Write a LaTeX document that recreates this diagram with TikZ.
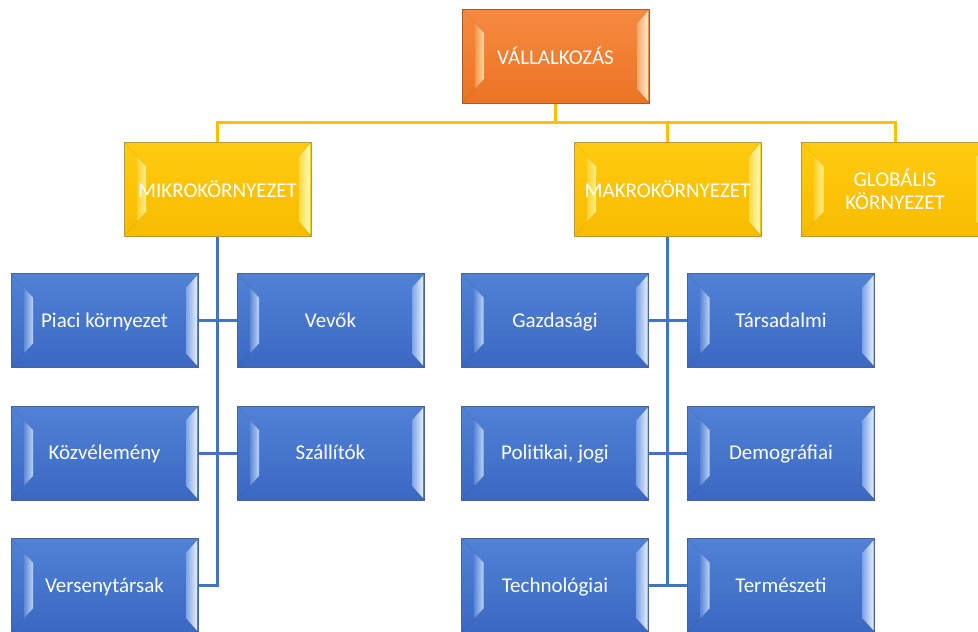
\documentclass[tikz,border=0pt]{standalone}
\usepackage{fontspec}
\setmainfont{Carlito}
\usetikzlibrary{calc,backgrounds}
\definecolor{bface1}{HTML}{5082D6}
\definecolor{bface2}{HTML}{3B68C2}
\definecolor{bl1}{HTML}{5E8AD8}
\definecolor{bl2}{HTML}{BCD3F6}
\definecolor{br1}{HTML}{7FA4E6}
\definecolor{br2}{HTML}{E4EFFD}
\definecolor{bbord}{HTML}{4A6394}
\definecolor{yface1}{HTML}{FFCB10}
\definecolor{yface2}{HTML}{F7BC00}
\definecolor{yl1}{HTML}{FFD030}
\definecolor{yl2}{HTML}{FFF08A}
\definecolor{yr1}{HTML}{FFDA40}
\definecolor{yr2}{HTML}{FFF9C8}
\definecolor{ybord}{HTML}{B99A3A}
\definecolor{oface1}{HTML}{F58A40}
\definecolor{oface2}{HTML}{EC7424}
\definecolor{ol1}{HTML}{F5954A}
\definecolor{ol2}{HTML}{FDD9A6}
\definecolor{or1}{HTML}{F8A868}
\definecolor{or2}{HTML}{FEEAD0}
\definecolor{obord}{HTML}{A9592C}
\definecolor{yline}{HTML}{FFC000}
\definecolor{bline}{HTML}{4472C4}
\tikzset{
  bevbox/.style n args={7}{
    draw=#1, line width=0.7pt, top color=#2, bottom color=#3,
    minimum width=187pt, minimum height=94pt, inner sep=2pt,
    text=white, font=\fontsize{21}{23}\selectfont, align=center,
    path picture={
      \coordinate (pnw) at (path picture bounding box.north west);
      \coordinate (pne) at (path picture bounding box.north east);
      \coordinate (psw) at (path picture bounding box.south west);
      \coordinate (pse) at (path picture bounding box.south east);
      \shade[left color=#4, right color=#5]
        ($(pnw)+(13pt,-14pt)$) -- ($(pnw)+(22pt,-24pt)$) -- ($(psw)+(22pt,24pt)$) -- ($(psw)+(13pt,14pt)$) -- cycle;
      \shade[left color=#6, right color=#7]
        ($(pne)+(-12pt,-14pt)$) -- ($(pne)+(-1pt,-2pt)$) -- ($(pse)+(-1pt,2pt)$) -- ($(pse)+(-12pt,14pt)$) -- cycle;
      \draw[black, opacity=0.08, line width=0.6pt] (pnw) -- ($(pnw)+(22pt,-24pt)$) (psw) -- ($(psw)+(22pt,24pt)$)
        (pne) -- ($(pne)+(-12pt,-14pt)$) (pse) -- ($(pse)+(-12pt,14pt)$);
    }},
  bluebox/.style={bevbox={bbord}{bface1}{bface2}{bl1}{bl2}{br1}{br2}, text height=17pt, text depth=4pt},
  yelbox/.style={bevbox={ybord}{yface1}{yface2}{yl1}{yl2}{yr1}{yr2}},
  orbox/.style={bevbox={obord}{oface1}{oface2}{ol1}{ol2}{or1}{or2}},
  yconn/.style={draw=yline, line width=3pt},
  bconn/.style={draw=bline, line width=3pt},
}
\begin{document}
\begin{tikzpicture}[x=1pt, y=-1pt]
\useasboundingbox (0,0) rectangle (978,632);
\clip (0,0) rectangle (978,632);
% boxes
\node[orbox] (top) at (555.5,56) {VÁLLALKOZÁS};
\node[yelbox] (mikro) at (217.5,189) {MIKROKÖRNYEZET};
\node[yelbox] (makro) at (667.5,189) {MAKROKÖRNYEZET};
\node[yelbox] (glob) at (895,189) {GLOBÁLIS\\KÖRNYEZET};
\node[bluebox] (piaci) at (104.5,320.5) {Piaci környezet};
\node[bluebox] (vevok) at (330.5,320.5) {Vevők};
\node[bluebox] (kozv) at (104.5,453) {Közvélemény};
\node[bluebox] (szall) at (330.5,453) {Szállítók};
\node[bluebox] (verseny) at (104.5,585.5) {Versenytársak};
\node[bluebox] (gazd) at (555,320.5) {Gazdasági};
\node[bluebox] (tars) at (781,320.5) {Társadalmi};
\node[bluebox] (pol) at (555,453) {Politikai, jogi};
\node[bluebox] (demo) at (781,453) {Demográfiai};
\node[bluebox] (tech) at (555,585.5) {Technológiai};
\node[bluebox] (term) at (781,585.5) {Természeti};
% connectors behind boxes
\coordinate (ybus) at (556,122);
\begin{scope}[on background layer]
\fill[white] (0,0) rectangle (978,632);
\draw[yconn] (top.south) -- (top.south |- ybus) -| (mikro.north);
\draw[yconn] (top.south |- ybus) -| (makro.north);
\draw[yconn] (top.south |- ybus) -| (glob.north);
\draw[bconn] (mikro.south) |- (verseny.east);
\draw[bconn] (piaci.east) -- (vevok.west);
\draw[bconn] (kozv.east) -- (szall.west);
\draw[bconn] (makro.south) -- (makro.south |- tech.east);
\draw[bconn] (gazd.east) -- (tars.west);
\draw[bconn] (pol.east) -- (demo.west);
\draw[bconn] (tech.east) -- (term.west);
\end{scope}
\end{tikzpicture}
\end{document}
